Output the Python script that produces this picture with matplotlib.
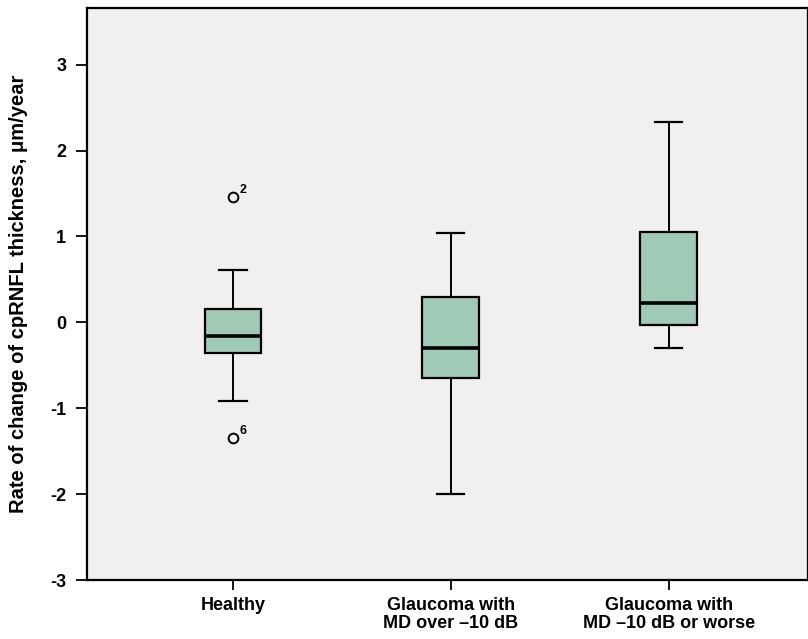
import matplotlib
matplotlib.use("Agg")
import matplotlib.pyplot as plt

plt.rcParams['font.family'] = ['Liberation Sans', 'DejaVu Sans']
plt.rcParams['axes.unicode_minus'] = False

# group labels and box summary values
groups = ['Healthy', 'Glaucoma with\nMD over \u201310 dB', 'Glaucoma with\nMD \u201310 dB or worse']
whislo = [-0.91, -2.00, -0.30]
q1 = [-0.36, -0.65, -0.03]
med = [-0.16, -0.30, 0.23]
q3 = [0.16, 0.30, 1.05]
whishi = [0.61, 1.04, 2.33]
fliers = [[1.46, -1.35], [], []]
flier_ids = [['2', '6'], [], []]
yticks = [-3, -2, -1, 0, 1, 2, 3]

stats = []
for i in range(len(groups)):
    stats.append(dict(whislo=whislo[i], q1=q1[i], med=med[i], q3=q3[i],
                      whishi=whishi[i], fliers=fliers[i], label=groups[i]))

fig = plt.figure(figsize=(8.08, 6.39), dpi=100)
ax = fig.add_axes([0.1077, 0.0923, 0.8923, 0.8952])
ax.set_facecolor('#f0f0f0')

ax.bxp(stats, positions=[1, 2, 3], widths=0.26, patch_artist=True,
       boxprops=dict(facecolor='#9ecab6', edgecolor='black', linewidth=1.6),
       medianprops=dict(color='black', linewidth=2.6),
       whiskerprops=dict(color='black', linewidth=1.4),
       capprops=dict(color='black', linewidth=1.6),
       capwidths=0.125,
       flierprops=dict(marker='o', markerfacecolor='none', markeredgecolor='black',
                       markersize=7, markeredgewidth=1.4))

# outlier case numbers
for i in range(len(groups)):
    for v, t in zip(fliers[i], flier_ids[i]):
        ax.annotate(t, (i + 1, v), xytext=(5, 3), textcoords='offset points',
                    fontsize=9, fontweight='bold')

ax.set_xlim(0.33, 3.64)
ax.set_ylim(-3, 3.66)
ax.set_yticks(yticks)
ax.set_yticklabels([str(t) for t in yticks], fontsize=13, fontweight='bold')
ax.set_xticks([1, 2, 3])
ax.set_xticklabels(groups, fontsize=13, fontweight='bold', linespacing=1.1)
ax.tick_params(axis='y', length=8, width=1.3, pad=7)
ax.tick_params(axis='x', length=7, width=1.3, pad=5)
for s in ax.spines.values():
    s.set_linewidth(1.6)

ax.set_ylabel('Rate of change of cpRNFL thickness, \u03bcm/year', fontsize=14.5,
              fontweight='bold')
ax.yaxis.set_label_coords(-0.082, 0.5)

fig.savefig('out.png', dpi=100)
